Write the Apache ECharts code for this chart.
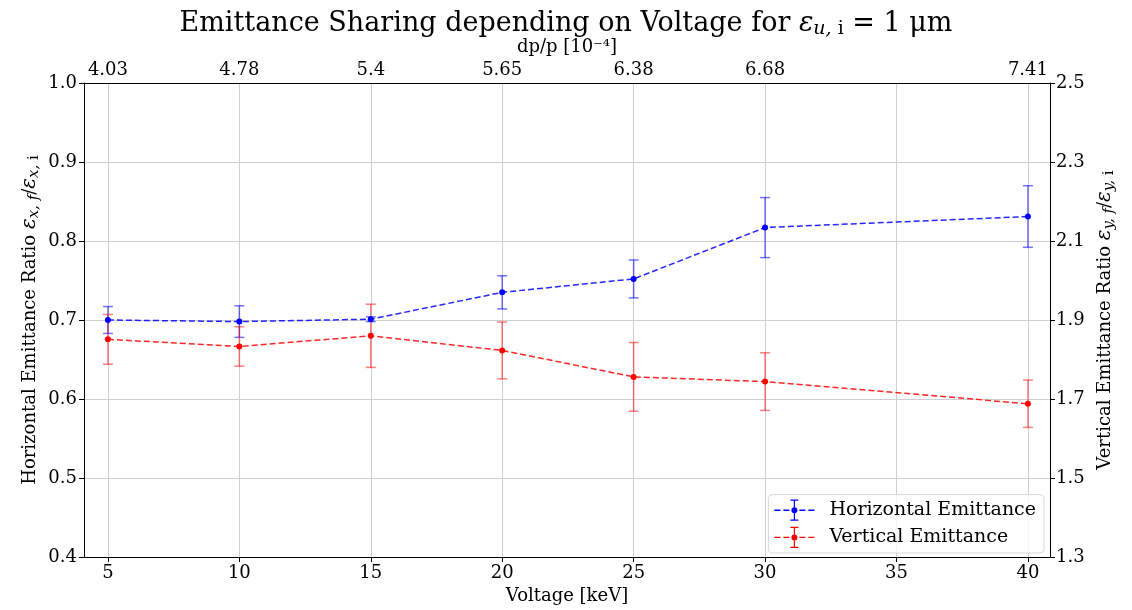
<!DOCTYPE html>
<html><head><meta charset="utf-8">
<script src="https://cdn.jsdelivr.net/npm/echarts@6/dist/echarts.min.js"></script>
<style>html,body{margin:0;padding:0;background:#fff}#c{width:1132px;height:610px}</style>
</head><body><div id="c"></div>
<script>
const voltage = [5, 10, 15, 20, 25, 30, 40];
const dppLabels = ['4.03', '4.78', '5.4', '5.65', '6.38', '6.68', '7.41'];
const hRatio = [0.700, 0.698, 0.701, 0.735, 0.752, 0.817, 0.831];
const hErr = [0.017, 0.020, 0.003, 0.021, 0.024, 0.038, 0.039];
const vRatio = [1.851, 1.833, 1.860, 1.823, 1.756, 1.744, 1.688];
const vErr = [0.063, 0.050, 0.080, 0.072, 0.087, 0.073, 0.060];
const bottomTicks = [5, 10, 15, 20, 25, 30, 35, 40];
const leftTicks = [0.4, 0.5, 0.6, 0.7, 0.8, 0.9, 1.0];
const rightTicks = [1.3, 1.5, 1.7, 1.9, 2.1, 2.3, 2.5];

const FONT = '"DejaVu Serif", serif';
const chart = echarts.init(document.getElementById('c'));

function errRender(color) {
  return function (params, api) {
    const x = api.value(0), y = api.value(1), e = api.value(2);
    const t = api.coord([x, y + e]), b = api.coord([x, y - e]);
    const cap = 5;
    const st = { stroke: color, lineWidth: 1.5 };
    return { type: 'group', children: [
      { type: 'line', shape: { x1: t[0], y1: t[1], x2: b[0], y2: b[1] }, style: st },
      { type: 'line', shape: { x1: t[0] - cap, y1: t[1], x2: t[0] + cap, y2: t[1] }, style: st },
      { type: 'line', shape: { x1: b[0] - cap, y1: b[1], x2: b[0] + cap, y2: b[1] }, style: st }
    ] };
  };
}

const icon = 'path://M0,11.3H6V12.7H0Z M9,11.3H15V12.7H9Z M25,11.3H31V12.7H25Z M34,11.3H40V12.7H34Z ' +
  'M19.4,2H20.6V22H19.4Z M16,1.4H24V2.6H16Z M16,21.4H24V22.6H16Z ' +
  'M23,12A3,3 0 1,1 17,12A3,3 0 1,1 23,12Z';

const axisLineStyle = { show: true, lineStyle: { color: '#000', width: 1 } };
const nameRich = {
  e: { fontFamily: FONT, fontSize: 20, fontStyle: 'italic', color: '#000' },
  s: { fontFamily: FONT, fontSize: 15, fontStyle: 'italic', verticalAlign: 'bottom', padding: [9, 0, 0, 0], color: '#000' },
  r: { fontFamily: FONT, fontSize: 15, verticalAlign: 'bottom', padding: [9, 0, 0, 0], color: '#000' },
  n: { fontFamily: FONT, fontSize: 18, color: '#000' }
};

chart.setOption({
  animation: false,
  backgroundColor: '#fff',
  title: {
    text: 'Emittance Sharing depending on Voltage for {e|ε}{s|u, }{r|i}{n| = 1 μm}',
    left: 'center', top: 3,
    textStyle: {
      fontFamily: FONT, fontSize: 27, fontWeight: 'normal', color: '#000',
      rich: {
        e: { fontFamily: FONT, fontSize: 27, fontStyle: 'italic', color: '#000' },
        s: { fontFamily: FONT, fontSize: 19, fontStyle: 'italic', verticalAlign: 'bottom', padding: [12, 0, 0, 0], color: '#000' },
        r: { fontFamily: FONT, fontSize: 19, verticalAlign: 'bottom', padding: [12, 0, 0, 0], color: '#000' },
        n: { fontFamily: FONT, fontSize: 27, color: '#000' }
      }
    }
  },
  grid: { left: 84, right: 82, top: 83, bottom: 47 },
  legend: {
    orient: 'vertical', right: 88, bottom: 57,
    itemWidth: 40, itemHeight: 24, itemGap: 6,
    icon: icon,
    padding: [5, 8, 5, 6],
    borderColor: '#d8d8d8', borderWidth: 1, borderRadius: 4,
    backgroundColor: 'rgba(255,255,255,0.8)',
    textStyle: { fontFamily: FONT, fontSize: 19, color: '#000', padding: [0, 0, 0, 10] },
    data: ['Horizontal Emittance', 'Vertical Emittance']
  },
  xAxis: [
    {
      type: 'value', position: 'bottom', min: 4.09, max: 40.84,
      name: 'Voltage [keV]', nameLocation: 'middle', nameGap: 30,
      nameTextStyle: { fontFamily: FONT, fontSize: 18, color: '#000' },
      axisLine: axisLineStyle,
      axisTick: { show: true, length: 5, lineStyle: { color: '#000' }, customValues: bottomTicks },
      axisLabel: { fontFamily: FONT, fontSize: 18, color: '#000', margin: 7, customValues: bottomTicks,
        formatter: v => String(Math.round(v)) },
      splitLine: { show: true, lineStyle: { color: '#cfcfcf', width: 1 } }
    },
    {
      type: 'value', position: 'top', min: 4.09, max: 40.84,
      name: 'dp/p [10⁻⁴]', nameLocation: 'middle', nameGap: 26,
      nameTextStyle: { fontFamily: FONT, fontSize: 18, color: '#000' },
      axisLine: axisLineStyle,
      axisTick: { show: false, customValues: voltage },
      axisLabel: { fontFamily: FONT, fontSize: 18, color: '#000', margin: 4, customValues: voltage,
        formatter: v => { const i = voltage.indexOf(Math.round(v)); return i >= 0 ? dppLabels[i] : ''; } },
      splitLine: { show: false }
    }
  ],
  yAxis: [
    {
      type: 'value', position: 'left', min: 0.4, max: 1.0,
      name: '{n|Horizontal Emittance Ratio }{e|ε}{s|x, f}{n|/}{e|ε}{s|x, }{r|i}',
      nameLocation: 'middle', nameGap: 42, nameRotate: 90, nameMoveOverlap: false,
      nameTextStyle: { fontFamily: FONT, fontSize: 18, color: '#000', rich: nameRich },
      axisLine: axisLineStyle,
      axisTick: { show: true, length: 5, lineStyle: { color: '#000' }, customValues: leftTicks },
      axisLabel: { fontFamily: FONT, fontSize: 18, color: '#000', margin: 7, customValues: leftTicks,
        formatter: v => v.toFixed(1) },
      splitLine: { show: true, lineStyle: { color: '#cfcfcf', width: 1 } }
    },
    {
      type: 'value', position: 'right', min: 1.3, max: 2.5,
      name: '{n|Vertical Emittance Ratio }{e|ε}{s|y, f}{n|/}{e|ε}{s|y, }{r|i}',
      nameLocation: 'middle', nameGap: 43, nameRotate: 90, nameMoveOverlap: false,
      nameTextStyle: { fontFamily: FONT, fontSize: 18, color: '#000', rich: nameRich },
      axisLine: axisLineStyle,
      axisTick: { show: true, length: 5, lineStyle: { color: '#000' }, customValues: rightTicks },
      axisLabel: { fontFamily: FONT, fontSize: 18, color: '#000', margin: 6, customValues: rightTicks,
        formatter: v => v.toFixed(1) },
      splitLine: { show: false }
    }
  ],
  series: [
    {
      type: 'custom', name: 'hErr', xAxisIndex: 0, yAxisIndex: 0,
      renderItem: errRender('rgba(0,0,255,0.55)'),
      data: voltage.map((v, i) => [v, hRatio[i], hErr[i]]), z: 3, silent: true
    },
    {
      type: 'custom', name: 'vErr', xAxisIndex: 0, yAxisIndex: 1,
      renderItem: errRender('rgba(255,0,0,0.5)'),
      data: voltage.map((v, i) => [v, vRatio[i], vErr[i]]), z: 3, silent: true
    },
    {
      type: 'line', name: 'Horizontal Emittance', xAxisIndex: 0, yAxisIndex: 0,
      data: voltage.map((v, i) => [v, hRatio[i]]),
      color: '#0000ff',
      lineStyle: { color: 'rgba(0,0,255,0.85)', width: 1.5, type: [6, 3] },
      symbol: 'circle', symbolSize: 6, itemStyle: { color: '#0000ff' }, z: 4
    },
    {
      type: 'line', name: 'Vertical Emittance', xAxisIndex: 0, yAxisIndex: 1,
      data: voltage.map((v, i) => [v, vRatio[i]]),
      color: '#ff0000',
      lineStyle: { color: 'rgba(255,0,0,0.85)', width: 1.5, type: [6, 3] },
      symbol: 'circle', symbolSize: 6, itemStyle: { color: '#ff0000' }, z: 4
    }
  ]
});
</script></body></html>
